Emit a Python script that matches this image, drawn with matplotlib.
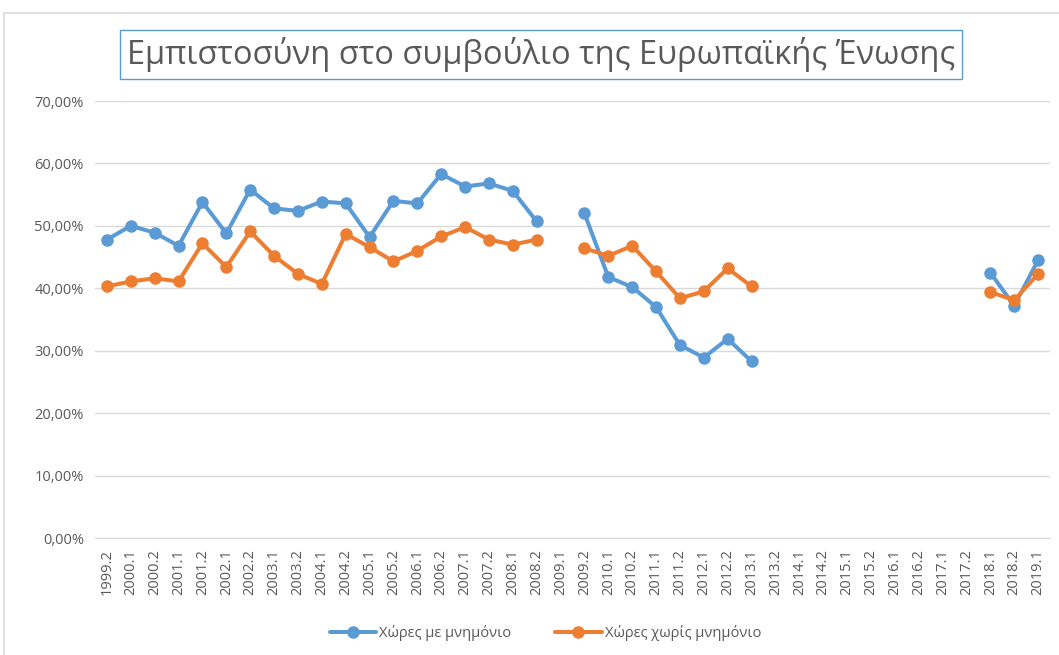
import numpy as np
import matplotlib
matplotlib.use("Agg")
import matplotlib.pyplot as plt
from matplotlib.patches import Rectangle

plt.rcParams['font.family'] = ['Open Sans', 'DejaVu Sans']

nan = np.nan
periods = ["1999.2", "2000.1", "2000.2", "2001.1", "2001.2", "2002.1", "2002.2",
           "2003.1", "2003.2", "2004.1", "2004.2", "2005.1", "2005.2", "2006.1",
           "2006.2", "2007.1", "2007.2", "2008.1", "2008.2", "2009.1", "2009.2",
           "2010.1", "2010.2", "2011.1", "2011.2", "2012.1", "2012.2", "2013.1",
           "2013.2", "2014.1", "2014.2", "2015.1", "2015.2", "2016.1", "2016.2",
           "2017.1", "2017.2", "2018.1", "2018.2", "2019.1"]

# Χώρες με μνημόνιο (%)
with_memo = [47.8, 50.0, 48.9, 46.8, 53.8, 48.8, 55.8, 52.8, 52.4, 53.9,
             53.6, 48.2, 54.0, 53.6, 58.3, 56.3, 56.8, 55.6, 50.7, nan,
             52.0, 41.8, 40.2, 37.0, 30.9, 28.9, 31.9, 28.3, nan, nan,
             nan, nan, nan, nan, nan, nan, nan, 42.5, 37.2, 44.5]

# Χώρες χωρίς μνημόνιο (%)
without_memo = [40.3, 41.1, 41.6, 41.1, 47.2, 43.4, 49.1, 45.2, 42.3, 40.7,
                48.7, 46.6, 44.3, 46.0, 48.3, 49.8, 47.8, 47.0, 47.8, nan,
                46.4, 45.2, 46.8, 42.7, 38.4, 39.5, 43.2, 40.3, nan, nan,
                nan, nan, nan, nan, nan, nan, nan, 39.4, 38.1, 42.3]

grey = "#595959"
fig = plt.figure(figsize=(10.59, 6.55), dpi=100)
ax = fig.add_axes([0.0897, 0.1786, 0.9018, 0.6672])

x = np.arange(len(periods))
ax.plot(x, with_memo, color="#5B9BD5", lw=2.9, marker="o", ms=8,
        label="Χώρες με μνημόνιο", solid_capstyle="round")
ax.plot(x, without_memo, color="#ED7D31", lw=2.9, marker="o", ms=8,
        label="Χώρες χωρίς μνημόνιο", solid_capstyle="round")

ax.set_xlim(-0.5, len(periods) - 0.5)
ax.set_ylim(0, 70)
ax.set_yticks(np.arange(0, 71, 10))
ax.set_yticklabels([f"{v:.2f}%".replace(".", ",") for v in range(0, 71, 10)])
ax.set_xticks(x)
ax.set_xticklabels(periods, rotation=90)
ax.tick_params(axis="both", length=0, colors=grey, labelsize=10.5)
ax.tick_params(axis="y", pad=8)
ax.tick_params(axis="x", pad=8)
ax.grid(axis="y", color="#d9d9d9", lw=1)
ax.set_axisbelow(True)
for s in ["top", "right", "left"]:
    ax.spines[s].set_visible(False)
ax.spines["bottom"].set_color("#d9d9d9")

fig.text(0.511, 0.917, "Εμπιστοσύνη στο συμβούλιο της Ευρωπαϊκής Ένωσης",
         ha="center", va="center", fontsize=23.5, color=grey,
         bbox=dict(boxstyle="square,pad=0.22", fc="white", ec="#5B9BD5", lw=1))

leg = fig.legend(loc="center", bbox_to_anchor=(0.515, 0.033), ncol=2,
                 frameon=False, fontsize=10.5, labelcolor=grey,
                 handlelength=3.2, columnspacing=3, handletextpad=0.2)

fig.patches.append(Rectangle((4 / 1059, -0.01), 1.02, 1 - 13 / 655 + 0.01,
                             transform=fig.transFigure, fill=False,
                             ec="#d9d9d9", lw=1.2))

fig.savefig("out.png", dpi=100)
